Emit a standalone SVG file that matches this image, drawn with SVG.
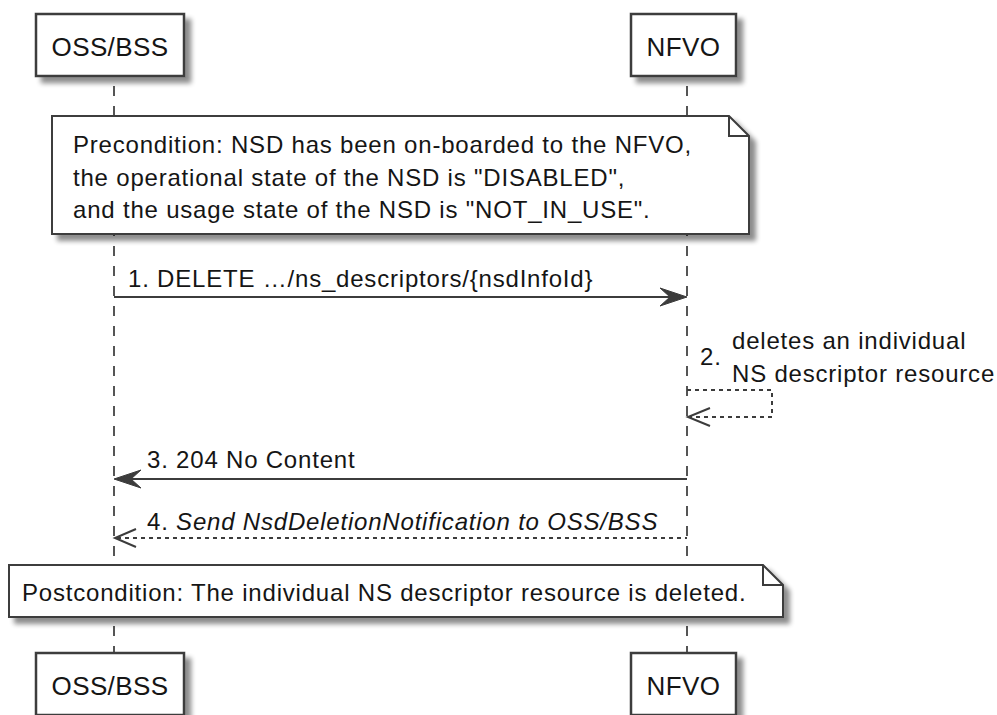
<svg xmlns="http://www.w3.org/2000/svg" width="997" height="715" viewBox="0 0 997 715">
<defs>
<filter id="sh" x="-10%" y="-20%" width="130%" height="160%">
<feGaussianBlur in="SourceAlpha" stdDeviation="2.5"/>
<feOffset dx="6" dy="6" result="b"/>
<feComponentTransfer><feFuncA type="linear" slope="0.45"/></feComponentTransfer>
<feMerge><feMergeNode/><feMergeNode in="SourceGraphic"/></feMerge>
</filter>
</defs>
<style>
text{font-family:"Liberation Sans",Arial,sans-serif;font-size:24px;letter-spacing:0.8px;fill:#151515}
.p{font-size:26px;letter-spacing:0.4px}
.box{fill:#fff;stroke:#3c3c3c;stroke-width:2.5;filter:url(#sh)}
.note{fill:#fff;stroke:#3c3c3c;stroke-width:2;filter:url(#sh)}
.fold{fill:none;stroke:#3c3c3c;stroke-width:2}
.life{stroke:#555;stroke-width:2;stroke-dasharray:10,10;fill:none}
.msg{stroke:#3c3c3c;stroke-width:2;fill:none}
.dmsg{stroke:#3c3c3c;stroke-width:2;fill:none;stroke-dasharray:4,4}
.head{fill:#3c3c3c;stroke:#3c3c3c;stroke-width:1}
.ohead{fill:none;stroke:#3c3c3c;stroke-width:2}
.c{text-anchor:middle}
</style>
<g id="lifelines">
<line class="life" x1="114" y1="86" x2="114" y2="653"/>
<line class="life" x1="687" y1="86" x2="687" y2="653"/>
</g>
<g id="participant-oss-top"><rect class="box" x="36" y="14" width="148" height="62"/><text class="c p" x="110" y="56">OSS/BSS</text></g>
<g id="participant-nfvo-top"><rect class="box" x="631" y="14" width="105" height="62"/><text class="c p" x="683.5" y="56">NFVO</text></g>
<g id="participant-oss-bottom"><rect class="box" x="36" y="653" width="148" height="62"/><text class="c p" x="110" y="695">OSS/BSS</text></g>
<g id="participant-nfvo-bottom"><rect class="box" x="631" y="653" width="105" height="62"/><text class="c p" x="683.5" y="695">NFVO</text></g>
<g id="note-precondition">
<path class="note" d="M52,116 H729 L749,136 V234 H52 Z"/>
<path class="fold" d="M729,116 V136 H749"/>
<text x="73" y="153">Precondition: NSD has been on-boarded to the NFVO,</text>
<text x="73" y="186">the operational state of the NSD is "DISABLED",</text>
<text x="73" y="218">and the usage state of the NSD is "NOT_IN_USE".</text>
</g>
<g id="note-postcondition">
<path class="note" d="M9,565 H763 L783,585 V617 H9 Z"/>
<path class="fold" d="M763,565 V585 H783"/>
<text x="22" y="601">Postcondition: The individual NS descriptor resource is deleted.</text>
</g>
<g id="connectors">
<g id="msg1">
<line class="msg" x1="114" y1="297" x2="680" y2="297"/>
<polygon class="head" points="687,297 660,288 670,297 660,306"/>
<text x="128" y="287">1. DELETE …/ns_descriptors/{nsdInfoId}</text>
</g>
<g id="msg2">
<polyline class="dmsg" points="687,390 772,390 772,417 690,417"/>
<polyline class="ohead" points="710,408 688,417 710,426"/>
<text x="700" y="365">2.</text>
<text x="732" y="349">deletes an individual</text>
<text x="732" y="382">NS descriptor resource</text>
</g>
<g id="msg3">
<line class="msg" x1="121" y1="479" x2="687" y2="479"/>
<polygon class="head" points="114,479 141,470 131,479 141,488"/>
<text x="147" y="468">3. 204 No Content</text>
</g>
<g id="msg4">
<line class="dmsg" x1="117" y1="538" x2="687" y2="538"/>
<polyline class="ohead" points="136,529 115,538 136,547"/>
<text x="147" y="530">4. <tspan font-style="italic">Send NsdDeletionNotification to OSS/BSS</tspan></text>
</g>
</g>
</svg>
